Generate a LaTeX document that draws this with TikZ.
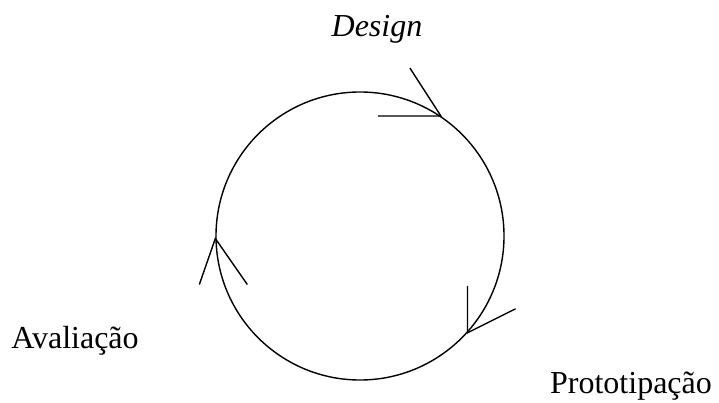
\documentclass[tikz,border=0pt]{standalone}
\usepackage{fontspec}
\setmainfont{Liberation Serif}
\usetikzlibrary{calc}

\begin{document}
\begin{tikzpicture}[
  x=1pt, y=1pt,
  fase/.style={font=\fontsize{32}{36}\selectfont, inner sep=0pt},
  ciclo/.style={circle, draw=black, line width=1.4pt, minimum size=288pt, inner sep=0pt},
  ponta/.style={draw=black, line width=1.4pt}
]
  \useasboundingbox (0,0) rectangle (719,402);

  % Ciclo
  \node[ciclo] (roda) at (360,166) {};

  % Fases
  \node[fase, font=\fontsize{32}{36}\selectfont\itshape] (design) at (377,373) {Design};
  \node[fase] (avaliacao) at (75,61) {Avaliação};
  \node[fase] (prototipo) at (631,16) {Prototipação};

  % Pontas de seta abertas sobre o ciclo
  \coordinate (t1) at (roda.56.4);
  \coordinate (t2) at (roda.181.2);
  \coordinate (t3) at (roda.-42.2);
  \draw[ponta] (t1) ++(-63,0) -- (t1) -- ++(-31,48);
  \draw[ponta] (t2) ++(-16,-46) -- (t2) -- ++(32,-46);
  \draw[ponta] (t3) ++(0,47) -- (t3) -- ++(48,24);

\end{tikzpicture}
\end{document}
